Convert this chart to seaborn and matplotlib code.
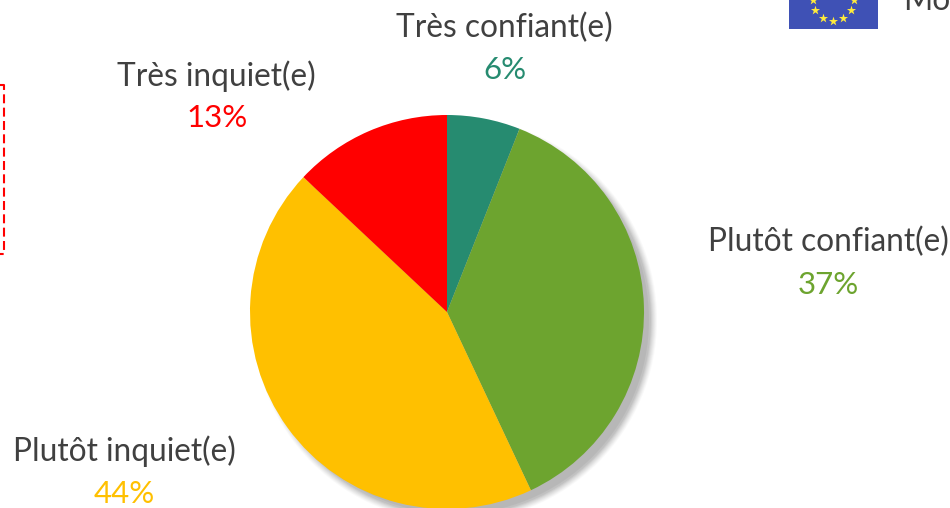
import matplotlib
matplotlib.use("Agg")
import matplotlib.pyplot as plt
from matplotlib.patches import Circle, Rectangle
import numpy as np
import seaborn as sns

labels = ["Très confiant(e)", "Plutôt confiant(e)", "Plutôt inquiet(e)", "Très inquiet(e)"]
values = [6, 37, 44, 13]
colors = ["#268B70", "#6DA42F", "#FFC000", "#FF0000"]

sns.set_theme(style="white")
plt.rcParams['font.family'] = ['Lato', 'DejaVu Sans']

H = 508
fig = plt.figure(figsize=(9.5, 5.08), dpi=100)
ax = fig.add_axes([0, 0, 1, 1])

# soft shadow behind the pie
cx, cy, r = 447, H - 312, 197
for grow, a in [(5, 0.08), (4, 0.1), (3, 0.12), (2, 0.15), (1, 0.2), (0, 0.3), (-1, 0.45), (-3, 0.7)]:
    ax.add_patch(Circle((cx + 8, cy - 8), r + grow, color="#b4b4b4", alpha=a, lw=0))

ax.pie(values, colors=colors, startangle=90, counterclock=False, center=(cx, cy), radius=r,
       frame=True, wedgeprops={"linewidth": 0})

ax.set_xlim(0, 950)
ax.set_ylim(0, H)
ax.set_aspect("equal")
ax.axis("off")

# labels
name_pos = [(504, 28), (828, 242), (124, 451), (216, 76)]
pct_pos = [(505, 70), (828, 285), (124, 494), (217, 118)]
for lab, val, col, p1, p2 in zip(labels, values, colors, name_pos, pct_pos):
    ax.text(p1[0], H - p1[1], lab, ha="center", va="center", fontsize=22.8, color="#404040")
    ax.text(p2[0], H - p2[1], f"{val}%", ha="center", va="center", fontsize=22.5, color=col)

# red dashed box, cut by the left edge
ax.plot([0, 4, 4, 0], [H - 85, H - 85, H - 254, H - 254], color="#FF0000", lw=1.5,
        dashes=(4.3, 2.1), clip_on=True)

# flag, cut by the top edge
ax.add_patch(Rectangle((789, H - 28.5), 89, 40, color="#3F51B5", lw=0))
ang = np.arange(12) * np.pi / 6
ax.scatter(833 + 20.5 * np.cos(ang), H + 20.5 * np.sin(ang), marker="*", s=48, color="#FFEB3B", lw=0, zorder=3)

ax.text(903, H - 10, "Mo", ha="left", va="baseline", fontsize=22.8, color="#404040", clip_on=True)

fig.savefig("out.png", dpi=100)
